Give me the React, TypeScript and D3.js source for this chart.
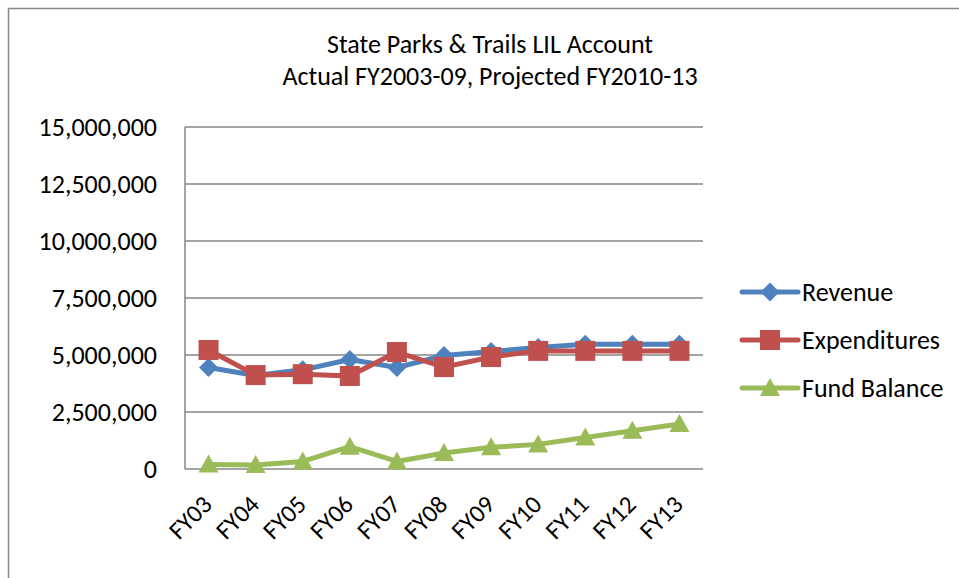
import React from 'react';
import * as d3 from 'd3';

// fiscal years on the x axis
const years = ['FY03', 'FY04', 'FY05', 'FY06', 'FY07', 'FY08', 'FY09', 'FY10', 'FY11', 'FY12', 'FY13'];
// values
const revenue = [4450000, 4100000, 4350000, 4800000, 4450000, 4980000, 5150000, 5330000, 5470000, 5470000, 5470000];
const expenditures = [5220000, 4120000, 4160000, 4080000, 5130000, 4470000, 4910000, 5180000, 5180000, 5180000, 5180000];
const fundBalance = [200000, 180000, 330000, 980000, 330000, 700000, 950000, 1080000, 1380000, 1680000, 1970000];
const yTicks = [0, 2500000, 5000000, 7500000, 10000000, 12500000, 15000000];
const titleLines = ['State Parks & Trails LIL Account', 'Actual FY2003-09, Projected FY2010-13'];

const series = [
  { name: 'Revenue', values: revenue, color: '#4F81BD', marker: 'diamond' },
  { name: 'Expenditures', values: expenditures, color: '#C0504D', marker: 'square' },
  { name: 'Fund Balance', values: fundBalance, color: '#9BBB59', marker: 'triangle' },
];

const FONT = "Carlito, 'Liberation Sans', Arial, sans-serif";

const Marker = ({ kind, x, y, color }: { kind: string; x: number; y: number; color: string }) => {
  if (kind === 'diamond') {
    return <path d={`M${x},${y - 9.5}L${x + 9.5},${y}L${x},${y + 9.5}L${x - 9.5},${y}Z`} fill={color} />;
  }
  if (kind === 'square') {
    return <rect x={x - 10} y={y - 10} width={20} height={20} fill={color} />;
  }
  return <path d={`M${x},${y - 10}L${x + 10},${y + 8}L${x - 10},${y + 8}Z`} fill={color} />;
};

const App = () => {
  const width = 959;
  const height = 578;
  const left = 185, right = 703, top = 127, bottom = 469;

  const x = d3.scalePoint<string>().domain(years).range([left, right]).padding(0.5);
  const y = d3.scaleLinear().domain([0, 15000000]).range([bottom, top]);
  const fmt = d3.format(',');

  return (
    <svg width={width} height={height} style={{ position: 'absolute', left: 0, top: 0, background: '#fff' }} fontFamily={FONT}>
      <rect x={8.5} y={8.5} width={970} height={600} fill="#fff" stroke="#888" strokeWidth={1.5} />

      {titleLines.map((t, i) => (
        <text key={t} x={490} y={53 + i * 32} textAnchor="middle" fontSize={26} fill="#000">{t}</text>
      ))}

      {yTicks.map(t => (
        <g key={t}>
          <line x1={left} x2={right} y1={y(t)} y2={y(t)} stroke="#868686" strokeWidth={1.5} />
          <text x={157} y={y(t)} dy="0.35em" textAnchor="end" fontSize={26} fill="#000">{fmt(t)}</text>
        </g>
      ))}
      <line x1={left} x2={left} y1={top} y2={bottom} stroke="#868686" strokeWidth={1.5} />

      {years.map(yr => (
        <text key={yr} transform={`translate(${(x(yr) as number) + 5},${bottom + 37}) rotate(-45)`}
          textAnchor="end" fontSize={25} fill="#000">{yr}</text>
      ))}

      {series.map(s => {
        const line = d3.line<number>().x((_, i) => x(years[i]) as number).y(v => y(v));
        return (
          <g key={s.name}>
            <path d={line(s.values) || ''} fill="none" stroke={s.color} strokeWidth={5} strokeLinejoin="round" />
            {s.values.map((v, i) => (
              <Marker key={i} kind={s.marker} x={x(years[i]) as number} y={y(v)} color={s.color} />
            ))}
          </g>
        );
      })}

      {series.map((s, i) => {
        const ly = 292 + i * 48;
        return (
          <g key={s.name}>
            <line x1={742} x2={798} y1={ly} y2={ly} stroke={s.color} strokeWidth={5} strokeLinecap="round" />
            <Marker kind={s.marker} x={770} y={ly} color={s.color} />
            <text x={802} y={ly} dy="0.35em" fontSize={26} fill="#000">{s.name}</text>
          </g>
        );
      })}
    </svg>
  );
};

export default App;
